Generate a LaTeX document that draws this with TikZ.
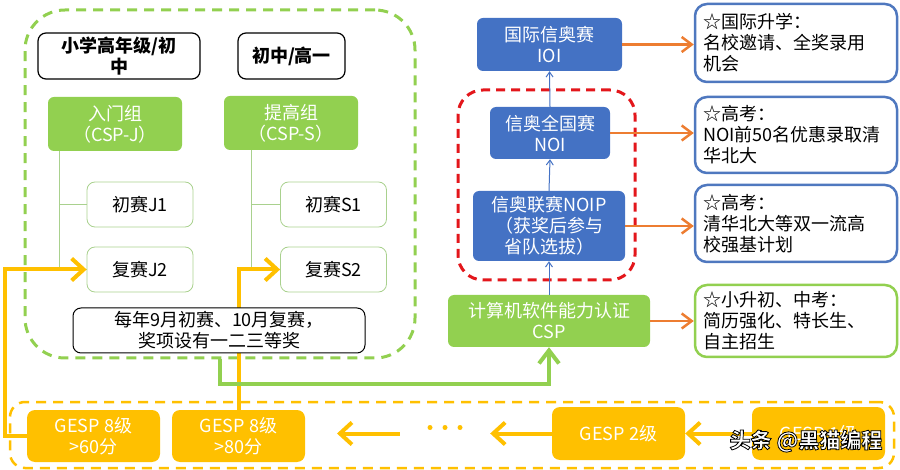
\documentclass[tikz,border=0pt]{standalone}
\usepackage{fontspec}
\setmainfont{Noto Sans CJK SC}
\usepackage{xcolor}
\usepackage{tikz}
\usetikzlibrary{arrows.meta}
\usetikzlibrary{positioning}
\definecolor{vert}{HTML}{92D050}
\definecolor{vertclair}{HTML}{A9D18E}
\definecolor{bleuf}{HTML}{4472C4}
\definecolor{bleur}{HTML}{4F78BF}
\definecolor{orangef}{HTML}{ED7D31}
\definecolor{jaune}{HTML}{FFC000}
\definecolor{rouge}{HTML}{E3161B}
\newcommand{\corps}{\fontsize{18pt}{21pt}\selectfont}
\tikzset{
    pointille/.style = {line width=3pt, dash pattern=on 10pt off 7pt, inner sep=0pt},
    cadre/.style = {draw=black, line width=1.2pt, rounded corners=8pt, font=\corps\bfseries, align=center, inner sep=0pt, minimum height=46pt},
    groupe/.style = {fill=vert, rounded corners=6pt, text=white, font=\corps, align=center, minimum width=134pt, minimum height=54pt},
    manche/.style = {draw=vertclair, line width=0.8pt, rounded corners=8pt, font=\corps, minimum width=106pt, minimum height=45pt},
    remarque/.style = {draw=black, fill=white, line width=1pt, rounded corners=8pt, font=\corps, align=center, inner sep=0pt, minimum width=292pt, minimum height=45pt},
    bleu/.style = {fill=bleuf, rounded corners=6pt, text=white, font=\corps, align=center, inner sep=1pt},
    debouche/.style = {draw=bleur, line width=2.5pt, rounded corners=12pt, font=\corps, align=left, text width=186pt, inner xsep=8pt, inner ysep=2pt},
    gesp/.style = {fill=jaune, rounded corners=8pt, text=white, font=\corps, align=center, minimum width=133pt, minimum height=52pt},
    arbre/.style = {draw=vertclair, line width=0.8pt},
    fleche/.style = {draw=orangef, line width=2.5pt, -{Straight Barb[length=10pt,width=15pt]}},
    monte/.style = {draw=bleuf, line width=1pt, -{Straight Barb[length=5pt,width=7pt]}},
    jfleche/.style = {draw=jaune, line width=4pt, -{Straight Barb[length=12pt,width=22pt]}},
    vfleche/.style = {draw=vert, line width=4pt, -{Straight Barb[length=13pt,width=20pt]}},
    >=Latex
}
\begin{document}
\begin{tikzpicture}[x=1pt, y=-1pt]
    \useasboundingbox (0,0) rectangle (900,470);
    % cadres en pointilles
    \node[pointille, draw=vert, rounded corners=40pt, minimum width=390pt, minimum height=348pt] (lframe) at (220,184) {};
    \node[pointille, draw=rouge, dash pattern=on 9pt off 6pt, rounded corners=25pt, minimum width=177pt, minimum height=190pt] (rframe) at (546.5,185) {};
    \node[pointille, draw=jaune, line width=2.5pt, rounded corners=15pt, minimum width=884pt, minimum height=66pt] (yframe) at (452,435) {};
    % partie CSP
    \node[cadre, minimum width=162pt] (primaire) at (119,56) {小学高年级/初\\中};
    \node[cadre, minimum width=107pt] (college) at (291.5,56) {初中/高一};
    \node[groupe] (cspj) at (115,124) {入门组\\（CSP-J）};
    \node[groupe] (csps) at (291,123) {提高组\\（CSP-S）};
    \node[manche] (j1) at (140,204.5) {初赛J1};
    \node[manche] (s1) at (333.5,204.5) {初赛S1};
    \node[manche] (j2) at (140,269.5) {复赛J2};
    \node[manche] (s2) at (333.5,269.5) {复赛S2};
    \draw[arbre] ([xshift=12pt]cspj.south west) |- (j1.west);
    \draw[arbre] ([xshift=12pt]cspj.south west) |- (j2.west);
    \draw[arbre] ([xshift=28pt]csps.south west) |- (s1.west);
    \draw[arbre] ([xshift=28pt]csps.south west) |- (s2.west);
    % filiere NOI
    \node[bleu, minimum width=145pt, minimum height=53pt] (ioi) at (549.5,44.5) {国际信奥赛\\IOI};
    \node[bleu, minimum width=120pt, minimum height=52pt] (noi) at (550,133) {信奥全国赛\\NOI};
    \node[bleu, minimum width=152pt, minimum height=70pt] (noip) at (549,226) {信奥联赛NOIP\\（获奖后参与\\省队选拔）};
    \node[bleu, fill=vert, minimum width=202pt, minimum height=52pt] (csp) at (549,321) {计算机软件能力认证\\CSP};
    \draw[monte] (noi.north) -- (ioi.south);
    \draw[monte] (noip.north) -- (noi.south);
    \draw[monte] (csp.north) -- (noip.south);
    % debouches
    \node[debouche, minimum height=78pt] (r1) at (796,43) {☆国际升学：\\名校邀请、全奖录用\\机会};
    \node[debouche, minimum height=76pt] (r2) at (796,135) {☆高考：\\NOI前50名优惠录取清\\华北大};
    \node[debouche, minimum height=77pt] (r3) at (796,223.5) {☆高考：\\清华北大等双一流高\\校强基计划};
    \node[debouche, draw=vert, minimum height=72pt] (r4) at (796,321) {☆小升初、中考：\\简历强化、特长生、\\自主招生};
    \draw[fleche] (ioi.east) -- (ioi.east -| r1.west);
    \draw[fleche] (noi.east) -- (noi.east -| r2.west);
    \draw[fleche] (noip.east) -- (noip.east -| r3.west);
    \draw[fleche] (csp.east) -- (csp.east -| r4.west);
    % GESP
    \node[gesp] (g8a) at (93.5,436) {GESP 8级\\>60分};
    \node[gesp] (g8b) at (238.5,436) {GESP 8级\\>80分};
    \node[gesp, minimum height=53pt] (g2) at (618.5,433.5) {GESP 2级};
    \node[gesp, minimum height=53pt] (g1) at (818.5,433.5) {GESP 1级};
    \node[minimum width=90pt, minimum height=10pt, inner sep=0pt] (dots) at (445,433.5) {};
    \foreach \i in {-15, 0, 15} {
            \fill[jaune] ([shift={(\i,-6)}]dots.center) circle (2.5);
        }
    \coordinate (bout) at (337,433.5);
    \draw[jfleche] (g1.west) -- (g2.east);
    \draw[jfleche] (g2.west) -- (dots.east);
    \draw[jfleche] (dots.west) -- (bout);
    \draw[jfleche] (g8a.west) -- ++(-22,0) |- (j2.west);
    \draw[jfleche] (g8b.north) |- (s2.west);
    \draw[vfleche] (lframe.south) -- ++(0,25) -| (csp.south);
    \node[remarque] (note) at (219,330.5) {每年9月初赛、10月复赛，\\奖项设有一二三等奖};
    \node[font=\fontsize{21pt}{24pt}\selectfont\bfseries, text=white] (marque) at (806,441) {\special{pdf:literal direct 2 Tr 0.8 w 0 G}头条 @黑猫编程\special{pdf:literal direct 0 Tr}};
\end{tikzpicture}
\end{document}
